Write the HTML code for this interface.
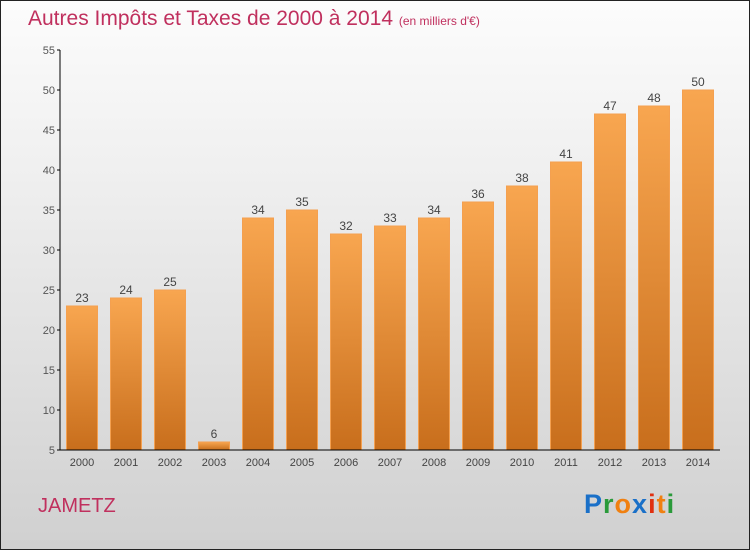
<!DOCTYPE html>
<html><head><meta charset="utf-8"><style>
body{margin:0;}
#wrap{position:relative;width:748px;height:548px;border:1px solid #222;background:linear-gradient(#fcfcfc,#f0f0f0 30%,#d0d0d0);font-family:"Liberation Sans",sans-serif;overflow:hidden}
#title{position:absolute;left:27px;top:6px;font-size:21px;color:#c0305e;white-space:nowrap}
#title small{font-size:12px}
#city{position:absolute;left:37px;top:494px;font-size:20px;color:#c0305e}
#logo{position:absolute;left:583px;top:488px;font-size:27px;font-weight:bold;letter-spacing:1px}
</style></head><body>
<div id="wrap">
<div id="title">Autres Impôts et Taxes de 2000 à 2014 <small>(en milliers d'€)</small></div>
<svg id="chart" width="750" height="550" style="position:absolute;left:-1px;top:-1px">
<defs><linearGradient id="g" x1="0" y1="0" x2="0" y2="1"><stop offset="0" stop-color="#f8a650"/><stop offset="1" stop-color="#c86e1c"/></linearGradient></defs>
<g id="bars"></g><g id="axes"></g>
</svg>
<div id="city">JAMETZ</div>
<div id="logo"><span style="color:#1a70c8">P</span><span style="color:#2a9a3a">r</span><span style="color:#f08010">o</span><span style="color:#1a70c8">x</span><span style="color:#e03010">i</span><span style="color:#f08010">t</span><span style="color:#2a9a3a">i</span></div>
</div>
<script>
const years=["2000","2001","2002","2003","2004","2005","2006","2007","2008","2009","2010","2011","2012","2013","2014"];
const values=[23,24,25,6,34,35,32,33,34,36,38,41,47,48,50];
const yTicks=[5,10,15,20,25,30,35,40,45,50,55];
const NS="http://www.w3.org/2000/svg";
const y=v=>450-(v-5)*8;
const x=i=>82+i*44;
function mk(t,a,p){const e=document.createElementNS(NS,t);for(const k in a)e.setAttribute(k,a[k]);p.appendChild(e);return e;}
const bars=document.getElementById('bars'),axes=document.getElementById('axes');
values.forEach((v,i)=>{
 const r=mk('rect',{x:x(i)-15.5,y:y(v),width:31,height:450-y(v),fill:'url(#g)',stroke:'#f4a050','stroke-width':1},bars);
 
 
 const t=mk('text',{x:x(i),y:y(v)-4,'text-anchor':'middle','font-size':12,fill:'#444','font-family':'Liberation Sans'},bars);
 t.textContent=v;
 
 
 const l=mk('text',{x:x(i),y:466,'text-anchor':'middle','font-size':11,fill:'#444','font-family':'Liberation Sans'},axes);
 l.textContent=years[i];
 
 
});
mk('line',{x1:60,y1:50,x2:60,y2:450,stroke:'#000'},axes);
mk('line',{x1:60,y1:450,x2:720,y2:450,stroke:'#000'},axes);
yTicks.forEach(v=>{
 mk('line',{x1:57,y1:y(v),x2:60,y2:y(v),stroke:'#000'},axes);
 const t=mk('text',{x:55,y:y(v)+4,'text-anchor':'end','font-size':11,fill:'#555','font-family':'Liberation Sans'},axes);
 t.textContent=v;
 
 
});
</script>
</body></html>
